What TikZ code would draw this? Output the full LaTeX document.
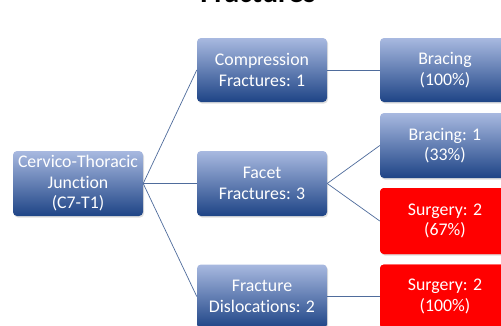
\documentclass[tikz,border=0pt]{standalone}
\usepackage{fontspec}
\setmainfont[Ligatures=NoCommon]{Carlito}
\usetikzlibrary{positioning, shadows}
\definecolor{boxtop}{HTML}{A8B9E0}
\definecolor{boxbot}{HTML}{1E4486}
\definecolor{alertred}{HTML}{FF0000}
\definecolor{linkblue}{HTML}{4F6C9C}

\begin{document}
\begin{tikzpicture}[
  x=1pt, y=1pt,
  bluebox/.style={rounded corners=4pt, minimum width=130pt, minimum height=64pt, align=center,
    top color=boxtop, bottom color=boxbot, text=white, inner sep=2pt,
    font=\fontsize{17.8}{20.5}\selectfont, drop shadow={opacity=0.25, shadow xshift=1pt, shadow yshift=-1.5pt}},
  redbox/.style={bluebox, top color=alertred, bottom color=alertred, fill=alertred},
  link/.style={linkblue, line width=0.7pt},
]

% Canvas
\useasboundingbox (0,0) rectangle (501,325);
\fill[white] (0,0) rectangle (501,325);

% Title
\node[font=\fontsize{30}{36}\selectfont\bfseries, anchor=base] (title) at (258,322.3) {Fractures};

% Root
\node[bluebox, minimum height=65pt] (root) at (78,141.5) {Cervico-Thoracic\\Junction\\(C7-T1)};

% Fracture types
\node[bluebox] (comp) at (262,255) {Compression\\Fractures: 1};
\node[bluebox, minimum height=65pt] (facet) at (262,141.5) {Facet\\Fractures: 3};
\node[bluebox] (disl) at (262,28.5) {Fracture\\Dislocations: 2};

% Treatments
\node[bluebox] (brace100) at (445,255) {Bracing\\(100\%)};
\node[bluebox, minimum height=65pt] (brace33) at (445,179.5) {Bracing: 1\\(33\%)};
\node[redbox, minimum height=66pt] (surg67) at (445,104) {Surgery: 2\\(67\%)};
\node[redbox] (surg100) at (445,28.5) {Surgery: 2\\(100\%)};

% Connectors
\draw[link] (root.east) -- (comp.west);
\draw[link] (root.east) -- (facet.west);
\draw[link] (root.east) -- (disl.west);
\draw[link] (comp.east) -- (brace100.west);
\draw[link] (facet.east) -- (brace33.west);
\draw[link] (facet.east) -- (surg67.west);
\draw[link] (disl.east) -- (surg100.west);

\end{tikzpicture}
\end{document}
